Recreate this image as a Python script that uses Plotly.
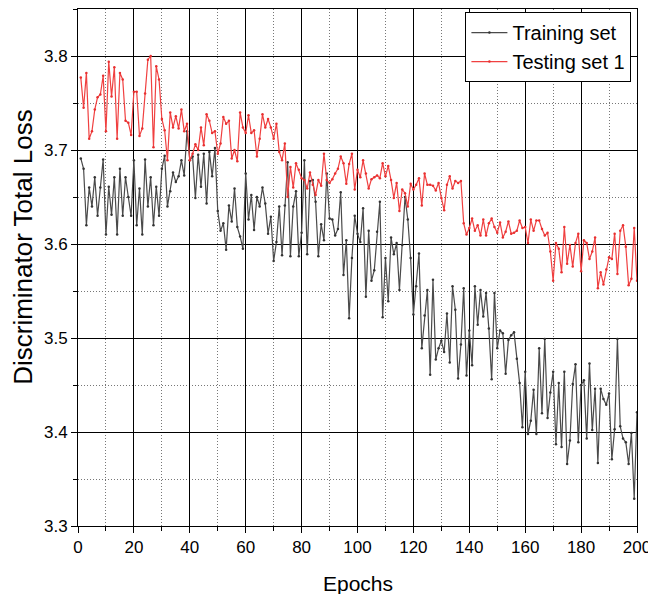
import plotly.graph_objects as go

epochs = list(range(1, 201))

training_loss = [
    3.691, 3.680, 3.620, 3.660, 3.640, 3.671, 3.630, 3.660, 3.690, 3.610,
    3.661, 3.631, 3.671, 3.610, 3.680, 3.630, 3.671, 3.650, 3.630, 3.689,
    3.620, 3.659, 3.610, 3.690, 3.640, 3.671, 3.620, 3.661, 3.630, 3.680,
    3.694, 3.640, 3.656, 3.676, 3.666, 3.672, 3.689, 3.673, 3.720, 3.689,
    3.693, 3.649, 3.695, 3.661, 3.696, 3.643, 3.698, 3.672, 3.702, 3.635,
    3.614, 3.622, 3.594, 3.641, 3.624, 3.659, 3.618, 3.608, 3.595, 3.675,
    3.626, 3.652, 3.615, 3.650, 3.640, 3.660, 3.643, 3.611, 3.629, 3.582,
    3.602, 3.640, 3.588, 3.641, 3.687, 3.587, 3.640, 3.656, 3.587, 3.612,
    3.689, 3.589, 3.667, 3.668, 3.645, 3.587, 3.621, 3.604, 3.675, 3.627,
    3.626, 3.609, 3.616, 3.655, 3.567, 3.604, 3.521, 3.585, 3.630, 3.611,
    3.602, 3.638, 3.544, 3.614, 3.561, 3.572, 3.613, 3.645, 3.522, 3.585,
    3.539, 3.607, 3.589, 3.601, 3.551, 3.599, 3.650, 3.626, 3.585, 3.525,
    3.555, 3.590, 3.489, 3.524, 3.551, 3.461, 3.562, 3.477, 3.489, 3.497,
    3.485, 3.526, 3.474, 3.555, 3.530, 3.457, 3.493, 3.553, 3.460, 3.508,
    3.471, 3.555, 3.514, 3.551, 3.523, 3.548, 3.510, 3.456, 3.548, 3.489,
    3.508, 3.505, 3.462, 3.498, 3.503, 3.506, 3.478, 3.452, 3.405, 3.464,
    3.398, 3.412, 3.445, 3.398, 3.489, 3.420, 3.499, 3.415, 3.442, 3.464,
    3.387, 3.452, 3.384, 3.464, 3.366, 3.391, 3.451, 3.472, 3.389, 3.450,
    3.455, 3.393, 3.473, 3.402, 3.446, 3.367, 3.446, 3.435, 3.429, 3.441,
    3.371, 3.403, 3.499, 3.406, 3.393, 3.389, 3.366, 3.399, 3.329, 3.421,
]

testing_loss = [
    3.777, 3.745, 3.782, 3.712, 3.720, 3.743, 3.756, 3.759, 3.779, 3.720,
    3.794, 3.757, 3.788, 3.712, 3.782, 3.775, 3.731, 3.729, 3.716, 3.762,
    3.762, 3.715, 3.723, 3.760, 3.796, 3.800, 3.703, 3.789, 3.775, 3.733,
    3.721, 3.689, 3.740, 3.724, 3.736, 3.723, 3.743, 3.720, 3.728, 3.689,
    3.696, 3.706, 3.700, 3.724, 3.705, 3.738, 3.731, 3.718, 3.720, 3.696,
    3.707, 3.735, 3.728, 3.731, 3.691, 3.700, 3.688, 3.740, 3.724, 3.718,
    3.737, 3.718, 3.721, 3.693, 3.712, 3.738, 3.724, 3.733, 3.724, 3.712,
    3.728, 3.698, 3.689, 3.707, 3.650, 3.682, 3.660, 3.686, 3.679, 3.670,
    3.668, 3.659, 3.676, 3.663, 3.652, 3.668, 3.662, 3.696, 3.668, 3.665,
    3.669, 3.675, 3.680, 3.693, 3.686, 3.664, 3.685, 3.696, 3.658, 3.679,
    3.671, 3.689, 3.675, 3.659, 3.669, 3.671, 3.673, 3.670, 3.686, 3.672,
    3.683, 3.668, 3.649, 3.665, 3.635, 3.658, 3.654, 3.640, 3.664, 3.658,
    3.663, 3.670, 3.641, 3.675, 3.663, 3.663, 3.662, 3.657, 3.665, 3.649,
    3.636, 3.663, 3.672, 3.659, 3.667, 3.665, 3.667, 3.622, 3.610, 3.617,
    3.627, 3.614, 3.620, 3.609, 3.626, 3.609, 3.622, 3.627, 3.618, 3.612,
    3.623, 3.607, 3.613, 3.624, 3.611, 3.612, 3.614, 3.625, 3.617, 3.618,
    3.601, 3.626, 3.614, 3.625, 3.625, 3.616, 3.609, 3.612, 3.592, 3.561,
    3.601, 3.595, 3.570, 3.618, 3.579, 3.599, 3.576, 3.601, 3.611, 3.571,
    3.604, 3.601, 3.584, 3.592, 3.607, 3.553, 3.570, 3.557, 3.573, 3.586,
    3.584, 3.611, 3.568, 3.614, 3.620, 3.597, 3.556, 3.563, 3.617, 3.561,
]

x_ticks = [0, 20, 40, 60, 80, 100, 120, 140, 160, 180, 200]
y_ticks = [3.3, 3.4, 3.5, 3.6, 3.7, 3.8]
y_tick_labels = ["3.3", "3.4", "3.5", "3.6", "3.7", "3.8"]

FONT = "Liberation Sans, Arial, sans-serif"

fig = go.Figure()
fig.add_trace(go.Scatter(
    x=epochs, y=training_loss, name="Training set", mode="lines+markers",
    line=dict(color="#4a4a4a", width=1.2), marker=dict(size=2.5, color="#333333"),
))
fig.add_trace(go.Scatter(
    x=epochs, y=testing_loss, name="Testing set 1", mode="lines+markers",
    line=dict(color="#f04040", width=1.2), marker=dict(size=2.5, color="#e83030"),
))

axis_common = dict(
    showline=True, linecolor="black", linewidth=1, mirror=True,
    showgrid=True, gridcolor="black", gridwidth=1,
    ticks="outside", ticklen=6, tickcolor="black", tickwidth=1,
    zeroline=False, automargin=False, ticklabeloverflow="allow",
    tickfont=dict(family=FONT, size=17, color="black"),
)

fig.update_xaxes(
    range=[0, 200], tickvals=x_ticks,
    minor=dict(dtick=10, tick0=0, showgrid=True, gridcolor="#777777", griddash="1px,2px",
               gridwidth=1, ticks="outside", ticklen=4, tickcolor="black"),
    **axis_common,
)
fig.update_yaxes(
    range=[3.3, 3.85], tickvals=y_ticks, ticktext=y_tick_labels,
    minor=dict(dtick=0.05, tick0=3.3, showgrid=True, gridcolor="#777777", griddash="1px,2px",
               gridwidth=1, ticks="outside", ticklen=4, tickcolor="black"),
    **axis_common,
)

fig.update_layout(
    width=648, height=594,
    margin=dict(l=78, r=11, t=9, b=68),
    plot_bgcolor="white", paper_bgcolor="white",
    font=dict(family=FONT, color="black"),
    showlegend=True,
    legend=dict(
        x=0.99, y=0.994, xanchor="right", yanchor="top",
        bordercolor="black", borderwidth=1, bgcolor="white",
        font=dict(family=FONT, size=20, color="black"),
        itemwidth=36, tracegroupgap=0,
    ),
    annotations=[
        dict(text="Epochs", xref="paper", yref="paper", x=0.5, y=0,
             yshift=-57, xanchor="center", yanchor="middle", showarrow=False,
             font=dict(family=FONT, size=21, color="black")),
        dict(text="Discriminator Total Loss", xref="paper", yref="paper", x=0, y=0.54,
             xshift=-55, xanchor="center", yanchor="middle", textangle=-90, showarrow=False,
             font=dict(family=FONT, size=26, color="black")),
    ],
)

fig.write_html(
    "out.html",
    config={"displayModeBar": False},
    post_script="document.body.style.margin='0px';",
)
